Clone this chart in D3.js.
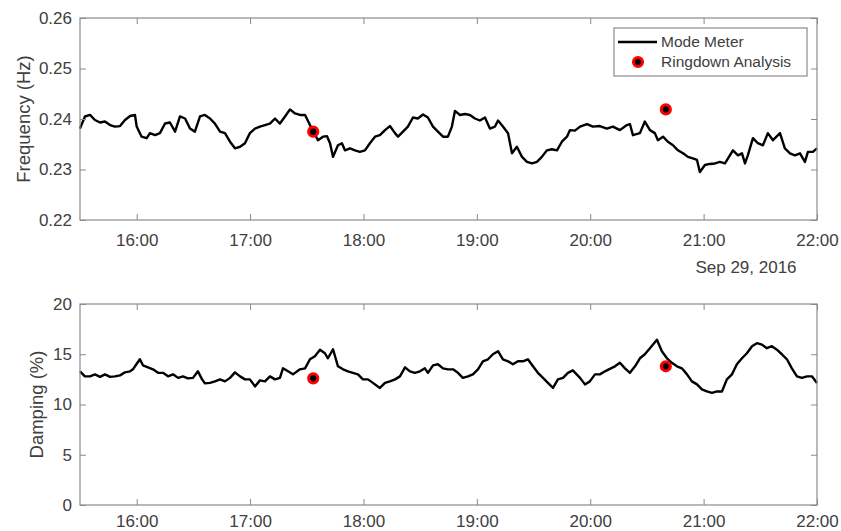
<!DOCTYPE html>
<html>
<head>
  <meta charset="utf-8">
  <script src="https://cdn.jsdelivr.net/npm/d3@7/dist/d3.min.js"></script>
  <style>
    body { margin: 0; background: #fff; }
    svg { font-family: "Liberation Sans", Arial, sans-serif; }
    .tick text { fill: #404040; }
  </style>
</head>
<body>
<svg width="841" height="531"></svg>
<script>

  // time axis runs from 15:30 to 22:00 on Sep 29, 2016; samples are minutes after 15:30
  var startTime = new Date(2016, 8, 29, 15, 30);
  var endTime = new Date(2016, 8, 29, 22, 0);

  var freqMinutes = [0, 2.6, 5.3, 7.9, 10.6, 13.2, 15.9, 18.5, 21.2, 23.8, 26.5, 29.1, 30.0, 32.6, 35.3, 37.0, 39.7, 42.3, 45.0, 47.6,
    50.3, 52.9, 55.6, 58.2, 60.8, 63.5, 66.1, 68.8, 71.4, 74.1, 76.7, 79.4, 82.0, 84.7, 87.3, 89.9, 92.6, 95.2, 97.9, 100.5,
    103.2, 105.8, 108.5, 111.1, 113.8, 116.4, 119.1, 121.7, 123.5, 125.9, 128.6, 130.7, 132.3, 133.9, 136.5, 138.6, 140.2, 142.9, 145.5, 148.1,
    150.8, 153.4, 156.1, 158.7, 161.4, 164.0, 166.7, 168.3, 170.9, 173.5, 176.2, 178.8, 181.5, 184.1, 186.8, 189.4, 192.1, 194.7, 196.8, 198.4,
    201.1, 203.7, 206.3, 209.0, 211.6, 214.3, 216.9, 219.6, 221.2, 223.8, 226.5, 228.6, 231.2, 233.9, 236.5, 239.2, 241.8, 244.4, 247.1, 249.7,
    252.4, 255.0, 257.7, 259.3, 261.9, 264.6, 268.3, 271.4, 275.1, 278.8, 282.0, 285.7, 289.4, 291.0, 292.6, 296.3, 298.9, 301.6, 304.2, 305.8,
    308.5, 311.1, 313.8, 316.4, 319.1, 321.7, 324.3, 326.5, 328.0, 330.7, 333.3, 336.0, 338.6, 341.3, 343.9, 345.5, 348.2, 350.3, 351.9, 353.4,
    356.1, 358.7, 361.4, 364.0, 366.7, 370.4, 373.0, 375.7, 378.3, 381.0, 383.6, 385.2, 387.8, 390.0];
  var freqValues = [0.2381, 0.2405, 0.2408, 0.2398, 0.2393, 0.2395, 0.2388, 0.2385, 0.2386, 0.2398, 0.2406, 0.2408, 0.2385, 0.2365, 0.2362, 0.2372, 0.2368, 0.2372, 0.2391, 0.2393,
    0.2375, 0.2405, 0.2401, 0.2381, 0.2375, 0.2405, 0.2408, 0.2401, 0.2391, 0.2375, 0.2372, 0.2355, 0.2342, 0.2345, 0.2352, 0.2372, 0.2381, 0.2385, 0.2388, 0.2391,
    0.2401, 0.2391, 0.2405, 0.2419, 0.2411, 0.2408, 0.2408, 0.2388, 0.2376, 0.2358, 0.2365, 0.2366, 0.2352, 0.2325, 0.2348, 0.2352, 0.2338, 0.2342, 0.2338, 0.2335,
    0.2338, 0.2352, 0.2365, 0.2368, 0.2378, 0.2386, 0.2372, 0.2365, 0.2375, 0.2385, 0.2403, 0.2401, 0.2409, 0.2403, 0.2385, 0.2375, 0.2365, 0.2365, 0.2385, 0.2416,
    0.2408, 0.2410, 0.2408, 0.2401, 0.2397, 0.2403, 0.2381, 0.2385, 0.2397, 0.2385, 0.2372, 0.2332, 0.2345, 0.2325, 0.2315, 0.2312, 0.2315, 0.2325, 0.2338, 0.2340,
    0.2338, 0.2355, 0.2365, 0.2378, 0.2377, 0.2385, 0.2390, 0.2385, 0.2386, 0.2381, 0.2385, 0.2378, 0.2388, 0.2390, 0.2368, 0.2372, 0.2395, 0.2378, 0.2372, 0.2358,
    0.2365, 0.2355, 0.2348, 0.2338, 0.2332, 0.2325, 0.2322, 0.2319, 0.2295, 0.2309, 0.2311, 0.2312, 0.2315, 0.2312, 0.2328, 0.2338, 0.2328, 0.2332, 0.2312, 0.2328,
    0.2362, 0.2352, 0.2348, 0.2372, 0.2358, 0.2372, 0.2342, 0.2332, 0.2328, 0.2332, 0.2315, 0.2335, 0.2335, 0.2342];

  var dampMinutes = [0, 2.6, 5.3, 7.9, 10.6, 13.2, 15.9, 18.5, 21.2, 23.8, 26.5, 28.0, 30.2, 31.7, 33.3, 36.0, 38.6, 41.3, 43.9, 46.6,
    49.2, 51.9, 54.5, 57.1, 59.8, 62.4, 64.6, 66.1, 68.8, 71.4, 74.1, 76.7, 79.4, 82.0, 84.7, 87.3, 89.9, 92.6, 95.2, 97.9,
    100.5, 103.2, 105.8, 107.4, 110.1, 112.7, 116.4, 119.1, 121.7, 124.3, 127.0, 129.6, 131.2, 133.9, 136.5, 139.2, 141.8, 144.4, 147.1, 149.7,
    152.4, 155.0, 158.7, 161.4, 164.0, 166.7, 169.3, 172.0, 174.6, 177.2, 179.9, 182.5, 184.1, 186.8, 189.4, 192.1, 194.7, 197.4, 200.0, 202.6,
    205.3, 207.9, 210.6, 213.2, 215.9, 218.5, 221.2, 223.8, 226.5, 229.1, 231.7, 234.4, 237.0, 239.7, 242.3, 245.0, 247.6, 250.3, 252.9, 255.6,
    258.2, 260.8, 264.6, 267.2, 269.8, 272.5, 275.1, 277.8, 280.4, 283.1, 285.7, 288.4, 291.0, 293.7, 296.3, 298.9, 301.6, 305.3, 307.9, 310.6,
    313.2, 315.9, 318.5, 321.2, 323.8, 326.5, 329.1, 331.7, 334.4, 337.0, 339.7, 342.3, 345.0, 347.6, 350.3, 352.9, 355.6, 358.2, 360.9, 363.5,
    366.1, 368.8, 371.4, 374.1, 376.7, 379.4, 382.0, 384.7, 387.3, 390.0];
  var dampValues = [13.3, 12.8, 12.8, 13.0, 12.75, 13.0, 12.75, 12.8, 12.9, 13.2, 13.3, 13.5, 14.1, 14.5, 13.9, 13.7, 13.5, 13.15, 13.15, 12.8,
    13.0, 12.65, 12.8, 12.6, 12.65, 13.3, 12.5, 12.1, 12.15, 12.3, 12.5, 12.3, 12.65, 13.2, 12.8, 12.5, 12.5, 11.8, 12.4, 12.3,
    12.8, 12.5, 12.65, 13.6, 13.3, 13.0, 13.5, 13.6, 14.5, 14.8, 15.45, 15.1, 14.6, 15.5, 13.8, 13.5, 13.3, 13.15, 13.0, 12.5,
    12.5, 12.15, 11.65, 12.15, 12.3, 12.5, 12.8, 13.7, 13.3, 13.15, 13.3, 13.6, 13.15, 13.9, 14.0, 13.6, 13.5, 13.5, 13.15, 12.65,
    12.8, 13.0, 13.5, 14.3, 14.5, 15.0, 15.3, 14.5, 14.3, 14.0, 14.3, 14.3, 14.5, 13.8, 13.15, 12.65, 12.15, 11.65, 12.5, 12.65,
    13.15, 13.4, 12.65, 12.0, 12.3, 13.0, 13.0, 13.3, 13.55, 13.8, 14.15, 13.6, 13.15, 13.8, 14.6, 15.0, 15.6, 16.45, 15.3, 14.6,
    14.15, 13.8, 13.6, 13.0, 12.3, 12.0, 11.5, 11.3, 11.15, 11.3, 11.3, 12.5, 13.0, 14.0, 14.6, 15.1, 15.8, 16.1, 15.95, 15.6,
    15.8, 15.45, 15.0, 14.5, 13.6, 12.8, 12.65, 12.8, 12.8, 12.15];

  // ringdown analysis estimates
  var ringMinutes = [123.4, 310.0];
  var ringFreq = [0.2375, 0.2419];
  var ringDamp = [12.6, 13.8];

  var freqTicks = [0.22, 0.23, 0.24, 0.25, 0.26];
  var dampTicks = [0, 5, 10, 15, 20];
  var legendLabels = ["Mode Meter", "Ringdown Analysis"];

  function toTime(m) { return new Date(startTime.getTime() + m * 60000); }

  var svg = d3.select("svg");
  var left = 80, right = 817;

  var x = d3.scaleTime().domain([startTime, endTime]).range([left, right]);
  var hourTicks = d3.timeHour.range(new Date(2016, 8, 29, 16), new Date(2016, 8, 29, 22, 1));
  var fmt = d3.timeFormat("%H:%M");

  var panels = [
    { top: 18, bottom: 220, domain: [0.22, 0.26], ticks: freqTicks, tickFmt: d3.format(".2f"), pad: 14,
      minutes: freqMinutes, values: freqValues, ring: ringFreq, label: "Frequency (Hz)", labelX: 24 },
    { top: 304, bottom: 505, domain: [0, 20], ticks: dampTicks, tickFmt: d3.format("d"), pad: 10,
      minutes: dampMinutes, values: dampValues, ring: ringDamp, label: "Damping (%)", labelX: 37 }
  ];

  panels.forEach(function(p, i)
  {
    var y = d3.scaleLinear().domain(p.domain).range([p.bottom, p.top]);
    var g = svg.append("g");

    g.append("rect")
        .attr("x", left).attr("y", p.top)
        .attr("width", right - left).attr("height", p.bottom - p.top)
        .attr("fill", "#fff");

    var line = d3.line()
        .x(function(d) { return x(toTime(d[0])); })
        .y(function(d) { return y(d[1]); });

    g.append("path")
        .datum(d3.zip(p.minutes, p.values))
        .attr("fill", "none")
        .attr("stroke", "#000")
        .attr("stroke-width", 2.4)
        .attr("stroke-linejoin", "round")
        .attr("d", line);

    g.selectAll("circle.ring").data(d3.zip(ringMinutes, p.ring)).enter()
        .append("circle")
        .attr("class", "ring")
        .attr("cx", function(d) { return x(toTime(d[0])); })
        .attr("cy", function(d) { return y(d[1]); })
        .attr("r", 4.6)
        .attr("fill", "#000")
        .attr("stroke", "#f00")
        .attr("stroke-width", 3);

    // axes: labelled bottom/left, mirrored ticks top/right
    var axB = g.append("g").attr("transform", "translate(0," + p.bottom + ")")
        .call(d3.axisBottom(x).tickValues(hourTicks).tickFormat(fmt).tickSizeInner(-6).tickSizeOuter(0).tickPadding(p.pad));
    var axT = g.append("g").attr("transform", "translate(0," + p.top + ")")
        .call(d3.axisTop(x).tickValues(hourTicks).tickFormat("").tickSizeInner(-6).tickSizeOuter(0));
    var axL = g.append("g").attr("transform", "translate(" + left + ",0)")
        .call(d3.axisLeft(y).tickValues(p.ticks).tickFormat(p.tickFmt).tickSizeInner(-6).tickSizeOuter(0).tickPadding(8));
    var axR = g.append("g").attr("transform", "translate(" + right + ",0)")
        .call(d3.axisRight(y).tickValues(p.ticks).tickFormat("").tickSizeInner(-6).tickSizeOuter(0));

    [axB, axT, axL, axR].forEach(function(a)
    {
      a.select(".domain").remove();
      a.selectAll(".tick line").attr("stroke", "#8a8a8a");
      a.selectAll(".tick text").attr("font-size", 17).attr("font-family", "Liberation Sans, Arial, sans-serif");
    });

    g.append("rect")
        .attr("x", left).attr("y", p.top)
        .attr("width", right - left).attr("height", p.bottom - p.top)
        .attr("fill", "none")
        .attr("stroke", "#8a8a8a")
        .attr("stroke-width", 1.2);

    g.append("text")
        .attr("transform", "translate(" + p.labelX + "," + ((p.top + p.bottom) / 2) + ") rotate(-90)")
        .attr("text-anchor", "middle")
        .attr("dy", "0.35em")
        .attr("font-size", 18.5)
        .attr("fill", "#404040")
        .text(p.label);
  });

  svg.append("text")
      .attr("x", 746).attr("y", 273)
      .attr("text-anchor", "middle")
      .attr("font-size", 17)
      .attr("fill", "#404040")
      .text("Sep 29, 2016");

  // legend
  var legend = svg.append("g");
  legend.append("rect")
      .attr("x", 614).attr("y", 28).attr("width", 193).attr("height", 48)
      .attr("fill", "#fff").attr("stroke", "#8a8a8a").attr("stroke-width", 1.2);
  legend.append("line")
      .attr("x1", 618).attr("x2", 657).attr("y1", 42).attr("y2", 42)
      .attr("stroke", "#000").attr("stroke-width", 2.4);
  legend.append("circle")
      .attr("cx", 638).attr("cy", 62).attr("r", 4.6)
      .attr("fill", "#000").attr("stroke", "#f00").attr("stroke-width", 3);
  legend.selectAll("text.lab").data(legendLabels).enter()
      .append("text")
      .attr("class", "lab")
      .attr("x", 661)
      .attr("y", function(d, i) { return 42 + i * 20; })
      .attr("dy", "0.35em")
      .attr("font-size", 15.5)
      .attr("fill", "#404040")
      .text(function(d) { return d; });

</script>
</body>
</html>
